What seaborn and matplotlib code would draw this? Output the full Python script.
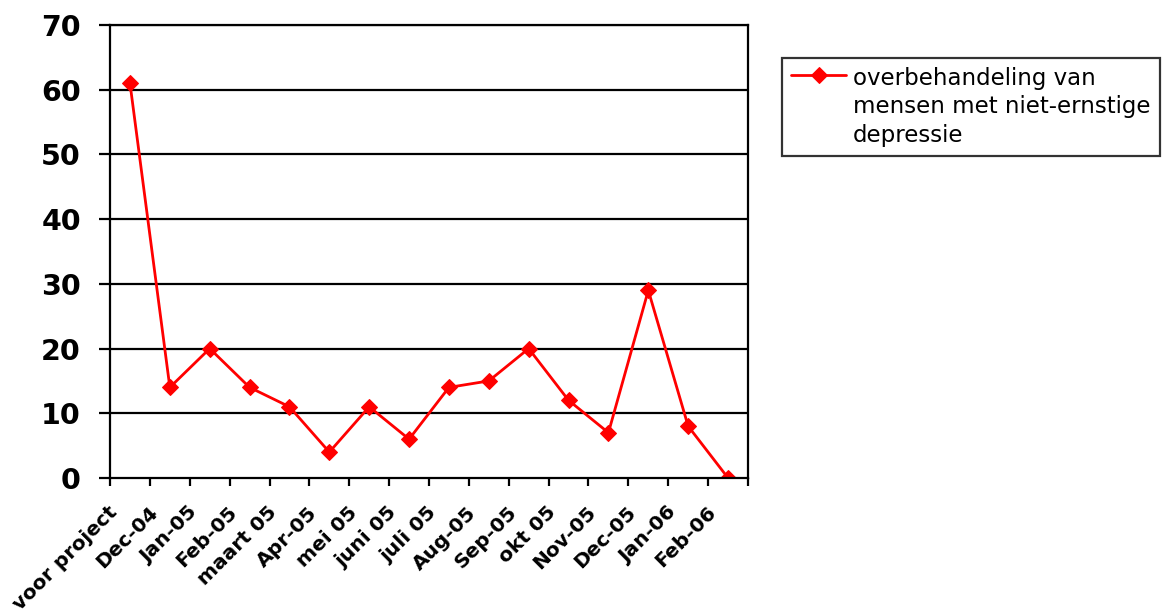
import matplotlib
matplotlib.use("Agg")
import matplotlib.pyplot as plt
import matplotlib.transforms as mtransforms
from matplotlib.offsetbox import HPacker, DrawingArea
import seaborn as sns
import pandas as pd
import numpy as np

categories = ["voor project", "Dec-04", "Jan-05", "Feb-05", "maart 05", "Apr-05",
              "mei 05", "juni 05", "juli 05", "Aug-05", "Sep-05", "okt 05",
              "Nov-05", "Dec-05", "Jan-06", "Feb-06"]
values = [61, 14, 20, 14, 11, 4, 11, 6, 14, 15, 20, 12, 7, 29, 8, 0]
series_label = "overbehandeling van\nmensen met niet-ernstige\ndepressie"
y_ticks = [0, 10, 20, 30, 40, 50, 60, 70]

sns.set_style("white")
plt.rcParams["font.family"] = ["DejaVu Sans"]
plt.rcParams.update({"text.color": "black", "xtick.color": "black",
                     "ytick.color": "black", "axes.labelcolor": "black"})

df = pd.DataFrame({"pos": np.arange(len(categories)), "value": values})

fig = plt.figure(figsize=(11.62, 6.15), dpi=100)
ax = fig.add_axes([0.0947, 0.2228, 0.5490, 0.7365])

sns.lineplot(data=df, x="pos", y="value", ax=ax, color="#ff0000", linewidth=2.0,
             marker="D", markersize=8.2, markeredgecolor="#ff0000",
             label=series_label, sort=False)

ax.set_xlim(-0.5, len(categories) - 0.5)
ax.set_ylim(0, 70)
ax.set_yticks(y_ticks)
ax.set_yticklabels([str(v) for v in y_ticks], fontsize=20.5, fontweight="bold")
ax.tick_params(axis="y", length=8, width=1.6, direction="out", pad=13, left=True)

# category labels under the points, tick marks on the boundaries between them
ax.set_xticks(np.arange(len(categories)))
ax.set_xticklabels(categories, fontsize=14.5, fontweight="bold", rotation=45,
                   ha="right", va="top", rotation_mode="anchor")
ax.tick_params(axis="x", which="major", length=0, pad=18)
ax.set_xticks(np.arange(len(categories) + 1) - 0.5, minor=True)
ax.tick_params(axis="x", which="minor", length=6, width=1.6, direction="out", bottom=True)
shift = mtransforms.ScaledTranslation(-0.22, 0, fig.dpi_scale_trans)
for lbl in ax.get_xticklabels():
    lbl.set_transform(lbl.get_transform() + shift)

for y in y_ticks[1:]:
    ax.axhline(y, color="black", linewidth=1.6, zorder=0)

for side in ["left", "bottom", "right", "top"]:
    ax.spines[side].set_visible(True)
    ax.spines[side].set_color("black")
    ax.spines[side].set_linewidth(1.6)

ax.set_xlabel("")
ax.set_ylabel("")

leg = ax.legend(loc="upper left", bbox_to_anchor=(0.673, 0.906), bbox_transform=fig.transFigure,
                frameon=True, fancybox=False, shadow=False, fontsize=16.5,
                handlelength=2.4, borderpad=0.4, handletextpad=0.3, borderaxespad=0)
leg.get_frame().set_edgecolor("black")
leg.get_frame().set_linewidth(1.6)
for t in leg.get_texts():
    t.set_linespacing(1.3)
# keep the legend marker level with the first line of the label
for hp in leg.findobj(HPacker):
    kids = hp.get_children()
    if len(kids) == 2 and isinstance(kids[0], DrawingArea):
        hp.align = "top"

fig.savefig("out.png", dpi=100, facecolor="white")
